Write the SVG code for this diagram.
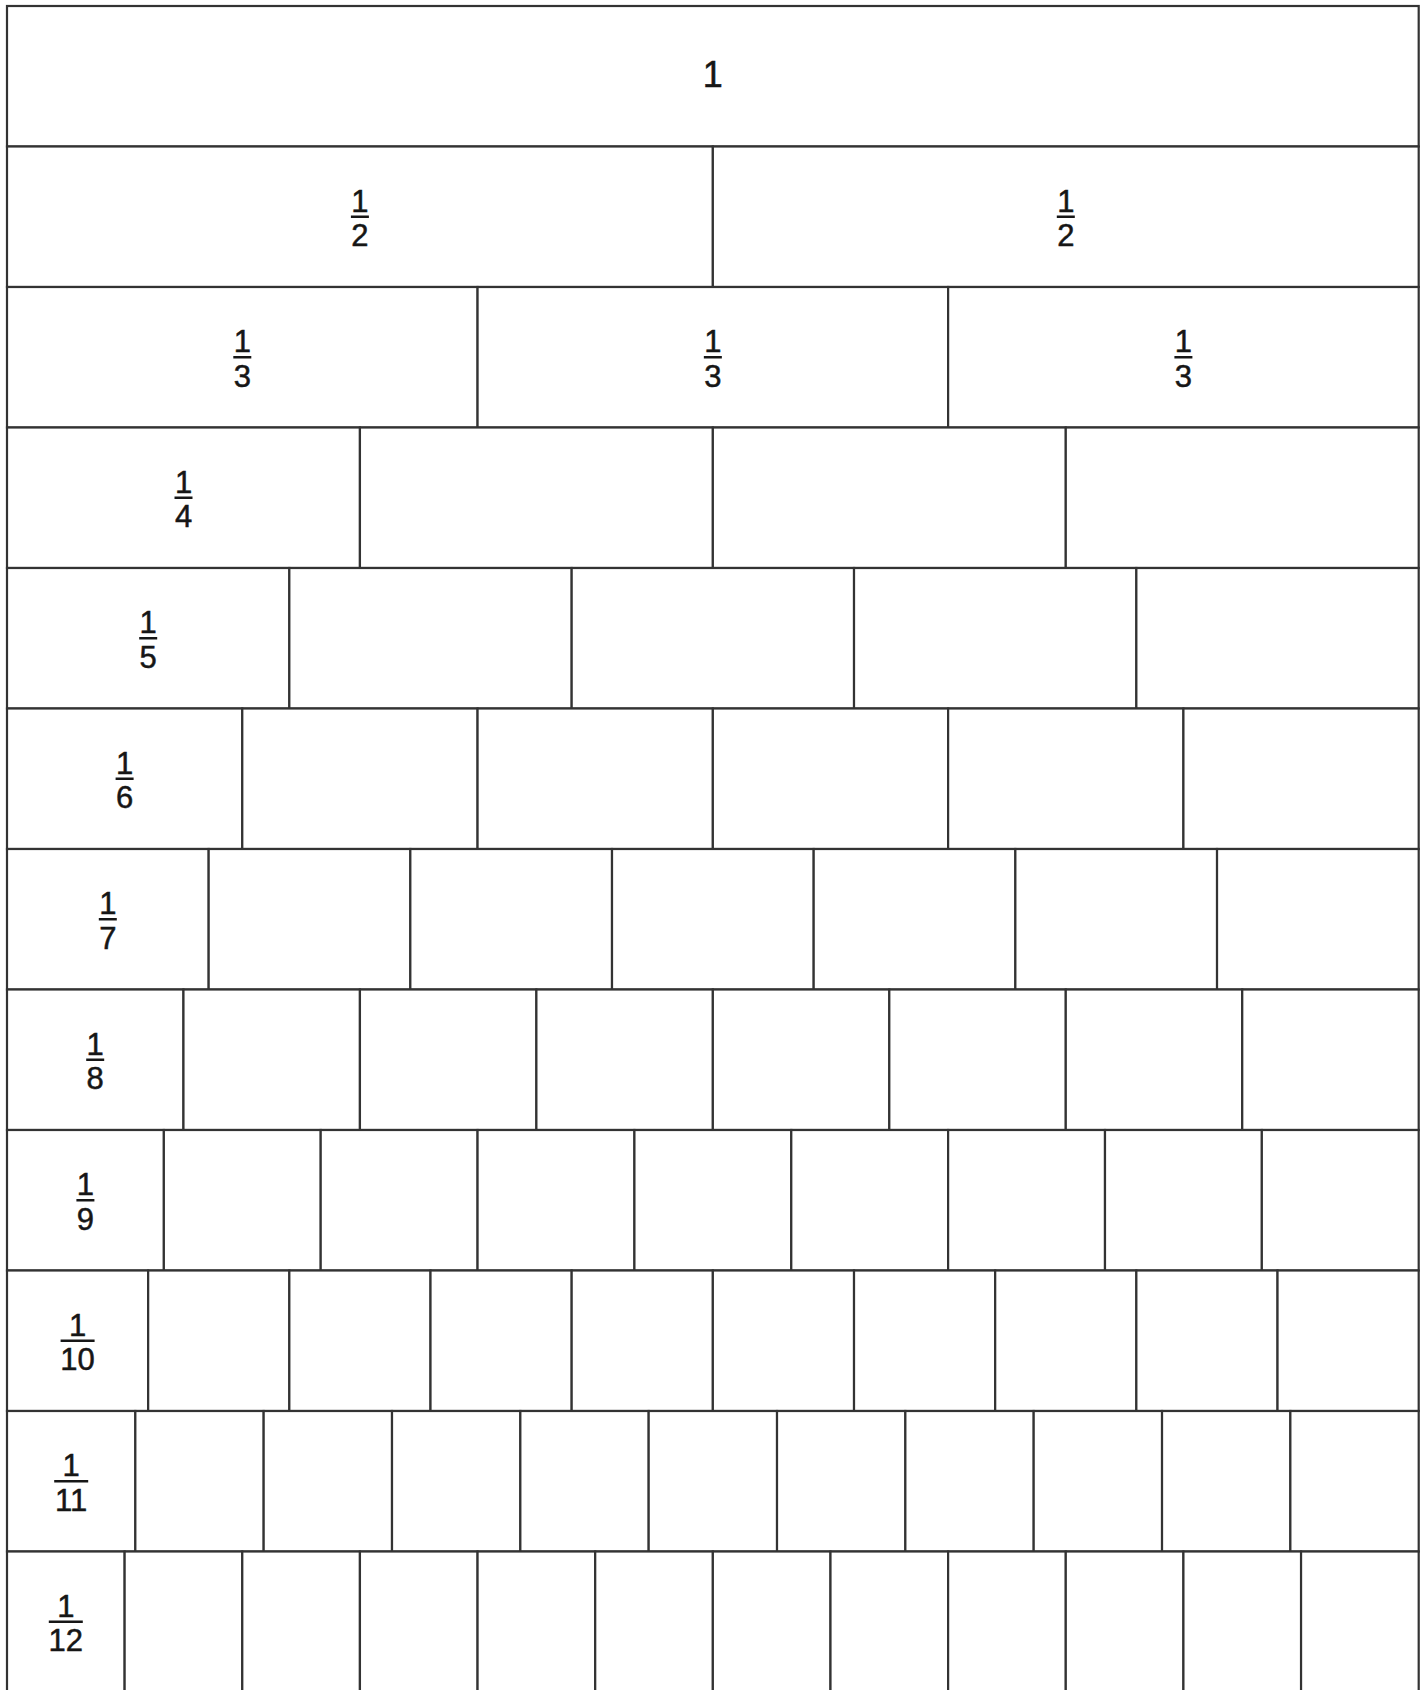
<svg xmlns="http://www.w3.org/2000/svg" width="1421" height="1690" viewBox="0 0 1421 1690">
<style>
.c{fill:#fff;stroke:#333;stroke-width:2.2}
.t{font-family:"Liberation Sans",Arial,sans-serif;font-size:31px;fill:#161616;stroke:#161616;stroke-width:0.5;text-anchor:middle}
.big{font-size:36px}
.bar{stroke:#161616;stroke-width:2.5}
</style>
<rect width="1421" height="1690" fill="#fff"/>
<g id="row1">
<g id="r1c1"><rect class="c" x="7" y="6" width="1411.7" height="140.5"/><text class="t big" x="712.85" y="87">1</text></g>
</g>
<g id="row2">
<g id="r2c1"><rect class="c" x="7" y="146.5" width="705.85" height="140.5"/><text class="t" x="359.9" y="211.75">1</text><line class="bar" x1="350.9" y1="216.75" x2="368.9" y2="216.75"/><text class="t" x="359.9" y="246">2</text></g>
<g id="r2c2"><rect class="c" x="712.85" y="146.5" width="705.85" height="140.5"/><text class="t" x="1065.8" y="211.75">1</text><line class="bar" x1="1056.8" y1="216.75" x2="1074.8" y2="216.75"/><text class="t" x="1065.8" y="246">2</text></g>
</g>
<g id="row3">
<g id="r3c1"><rect class="c" x="7" y="287" width="470.57" height="140.5"/><text class="t" x="242.3" y="352.25">1</text><line class="bar" x1="233.3" y1="357.25" x2="251.3" y2="357.25"/><text class="t" x="242.3" y="386.5">3</text></g>
<g id="r3c2"><rect class="c" x="477.57" y="287" width="470.57" height="140.5"/><text class="t" x="712.85" y="352.25">1</text><line class="bar" x1="703.85" y1="357.25" x2="721.85" y2="357.25"/><text class="t" x="712.85" y="386.5">3</text></g>
<g id="r3c3"><rect class="c" x="948.13" y="287" width="470.57" height="140.5"/><text class="t" x="1183.4" y="352.25">1</text><line class="bar" x1="1174.4" y1="357.25" x2="1192.4" y2="357.25"/><text class="t" x="1183.4" y="386.5">3</text></g>
</g>
<g id="row4">
<g id="r4c1"><rect class="c" x="7" y="427.5" width="352.93" height="140.5"/><text class="t" x="183.5" y="492.75">1</text><line class="bar" x1="174.5" y1="497.75" x2="192.5" y2="497.75"/><text class="t" x="183.5" y="527">4</text></g>
<g id="r4c2"><rect class="c" x="359.93" y="427.5" width="352.93" height="140.5"/></g>
<g id="r4c3"><rect class="c" x="712.85" y="427.5" width="352.93" height="140.5"/></g>
<g id="r4c4"><rect class="c" x="1065.78" y="427.5" width="352.93" height="140.5"/></g>
</g>
<g id="row5">
<g id="r5c1"><rect class="c" x="7" y="568" width="282.34" height="140.5"/><text class="t" x="148.2" y="633.25">1</text><line class="bar" x1="139.2" y1="638.25" x2="157.2" y2="638.25"/><text class="t" x="148.2" y="667.5">5</text></g>
<g id="r5c2"><rect class="c" x="289.34" y="568" width="282.34" height="140.5"/></g>
<g id="r5c3"><rect class="c" x="571.68" y="568" width="282.34" height="140.5"/></g>
<g id="r5c4"><rect class="c" x="854.02" y="568" width="282.34" height="140.5"/></g>
<g id="r5c5"><rect class="c" x="1136.36" y="568" width="282.34" height="140.5"/></g>
</g>
<g id="row6">
<g id="r6c1"><rect class="c" x="7" y="708.5" width="235.28" height="140.5"/><text class="t" x="124.6" y="773.75">1</text><line class="bar" x1="115.6" y1="778.75" x2="133.6" y2="778.75"/><text class="t" x="124.6" y="808">6</text></g>
<g id="r6c2"><rect class="c" x="242.28" y="708.5" width="235.28" height="140.5"/></g>
<g id="r6c3"><rect class="c" x="477.57" y="708.5" width="235.28" height="140.5"/></g>
<g id="r6c4"><rect class="c" x="712.85" y="708.5" width="235.28" height="140.5"/></g>
<g id="r6c5"><rect class="c" x="948.13" y="708.5" width="235.28" height="140.5"/></g>
<g id="r6c6"><rect class="c" x="1183.42" y="708.5" width="235.28" height="140.5"/></g>
</g>
<g id="row7">
<g id="r7c1"><rect class="c" x="7" y="849" width="201.67" height="140.5"/><text class="t" x="107.8" y="914.25">1</text><line class="bar" x1="98.8" y1="919.25" x2="116.8" y2="919.25"/><text class="t" x="107.8" y="948.5">7</text></g>
<g id="r7c2"><rect class="c" x="208.67" y="849" width="201.67" height="140.5"/></g>
<g id="r7c3"><rect class="c" x="410.34" y="849" width="201.67" height="140.5"/></g>
<g id="r7c4"><rect class="c" x="612.01" y="849" width="201.67" height="140.5"/></g>
<g id="r7c5"><rect class="c" x="813.69" y="849" width="201.67" height="140.5"/></g>
<g id="r7c6"><rect class="c" x="1015.36" y="849" width="201.67" height="140.5"/></g>
<g id="r7c7"><rect class="c" x="1217.03" y="849" width="201.67" height="140.5"/></g>
</g>
<g id="row8">
<g id="r8c1"><rect class="c" x="7" y="989.5" width="176.46" height="140.5"/><text class="t" x="95.2" y="1054.75">1</text><line class="bar" x1="86.2" y1="1059.75" x2="104.2" y2="1059.75"/><text class="t" x="95.2" y="1089">8</text></g>
<g id="r8c2"><rect class="c" x="183.46" y="989.5" width="176.46" height="140.5"/></g>
<g id="r8c3"><rect class="c" x="359.93" y="989.5" width="176.46" height="140.5"/></g>
<g id="r8c4"><rect class="c" x="536.39" y="989.5" width="176.46" height="140.5"/></g>
<g id="r8c5"><rect class="c" x="712.85" y="989.5" width="176.46" height="140.5"/></g>
<g id="r8c6"><rect class="c" x="889.31" y="989.5" width="176.46" height="140.5"/></g>
<g id="r8c7"><rect class="c" x="1065.78" y="989.5" width="176.46" height="140.5"/></g>
<g id="r8c8"><rect class="c" x="1242.24" y="989.5" width="176.46" height="140.5"/></g>
</g>
<g id="row9">
<g id="r9c1"><rect class="c" x="7" y="1130" width="156.86" height="140.5"/><text class="t" x="85.4" y="1195.25">1</text><line class="bar" x1="76.4" y1="1200.25" x2="94.4" y2="1200.25"/><text class="t" x="85.4" y="1229.5">9</text></g>
<g id="r9c2"><rect class="c" x="163.86" y="1130" width="156.86" height="140.5"/></g>
<g id="r9c3"><rect class="c" x="320.71" y="1130" width="156.86" height="140.5"/></g>
<g id="r9c4"><rect class="c" x="477.57" y="1130" width="156.86" height="140.5"/></g>
<g id="r9c5"><rect class="c" x="634.42" y="1130" width="156.86" height="140.5"/></g>
<g id="r9c6"><rect class="c" x="791.28" y="1130" width="156.86" height="140.5"/></g>
<g id="r9c7"><rect class="c" x="948.13" y="1130" width="156.86" height="140.5"/></g>
<g id="r9c8"><rect class="c" x="1104.99" y="1130" width="156.86" height="140.5"/></g>
<g id="r9c9"><rect class="c" x="1261.84" y="1130" width="156.86" height="140.5"/></g>
</g>
<g id="row10">
<g id="r10c1"><rect class="c" x="7" y="1270.5" width="141.17" height="140.5"/><text class="t" x="77.6" y="1335.75">1</text><line class="bar" x1="60.6" y1="1340.75" x2="94.6" y2="1340.75"/><text class="t" x="77.6" y="1370">10</text></g>
<g id="r10c2"><rect class="c" x="148.17" y="1270.5" width="141.17" height="140.5"/></g>
<g id="r10c3"><rect class="c" x="289.34" y="1270.5" width="141.17" height="140.5"/></g>
<g id="r10c4"><rect class="c" x="430.51" y="1270.5" width="141.17" height="140.5"/></g>
<g id="r10c5"><rect class="c" x="571.68" y="1270.5" width="141.17" height="140.5"/></g>
<g id="r10c6"><rect class="c" x="712.85" y="1270.5" width="141.17" height="140.5"/></g>
<g id="r10c7"><rect class="c" x="854.02" y="1270.5" width="141.17" height="140.5"/></g>
<g id="r10c8"><rect class="c" x="995.19" y="1270.5" width="141.17" height="140.5"/></g>
<g id="r10c9"><rect class="c" x="1136.36" y="1270.5" width="141.17" height="140.5"/></g>
<g id="r10c10"><rect class="c" x="1277.53" y="1270.5" width="141.17" height="140.5"/></g>
</g>
<g id="row11">
<g id="r11c1"><rect class="c" x="7" y="1411" width="128.34" height="140.5"/><text class="t" x="71.2" y="1476.25">1</text><line class="bar" x1="54.2" y1="1481.25" x2="88.2" y2="1481.25"/><text class="t" x="71.2" y="1510.5">11</text></g>
<g id="r11c2"><rect class="c" x="135.34" y="1411" width="128.34" height="140.5"/></g>
<g id="r11c3"><rect class="c" x="263.67" y="1411" width="128.34" height="140.5"/></g>
<g id="r11c4"><rect class="c" x="392.01" y="1411" width="128.34" height="140.5"/></g>
<g id="r11c5"><rect class="c" x="520.35" y="1411" width="128.34" height="140.5"/></g>
<g id="r11c6"><rect class="c" x="648.68" y="1411" width="128.34" height="140.5"/></g>
<g id="r11c7"><rect class="c" x="777.02" y="1411" width="128.34" height="140.5"/></g>
<g id="r11c8"><rect class="c" x="905.36" y="1411" width="128.34" height="140.5"/></g>
<g id="r11c9"><rect class="c" x="1033.69" y="1411" width="128.34" height="140.5"/></g>
<g id="r11c10"><rect class="c" x="1162.03" y="1411" width="128.34" height="140.5"/></g>
<g id="r11c11"><rect class="c" x="1290.37" y="1411" width="128.34" height="140.5"/></g>
</g>
<g id="row12">
<g id="r12c1"><rect class="c" x="7" y="1551.5" width="117.64" height="140.5"/><text class="t" x="65.8" y="1616.75">1</text><line class="bar" x1="48.8" y1="1621.75" x2="82.8" y2="1621.75"/><text class="t" x="65.8" y="1651">12</text></g>
<g id="r12c2"><rect class="c" x="124.64" y="1551.5" width="117.64" height="140.5"/></g>
<g id="r12c3"><rect class="c" x="242.28" y="1551.5" width="117.64" height="140.5"/></g>
<g id="r12c4"><rect class="c" x="359.93" y="1551.5" width="117.64" height="140.5"/></g>
<g id="r12c5"><rect class="c" x="477.57" y="1551.5" width="117.64" height="140.5"/></g>
<g id="r12c6"><rect class="c" x="595.21" y="1551.5" width="117.64" height="140.5"/></g>
<g id="r12c7"><rect class="c" x="712.85" y="1551.5" width="117.64" height="140.5"/></g>
<g id="r12c8"><rect class="c" x="830.49" y="1551.5" width="117.64" height="140.5"/></g>
<g id="r12c9"><rect class="c" x="948.13" y="1551.5" width="117.64" height="140.5"/></g>
<g id="r12c10"><rect class="c" x="1065.78" y="1551.5" width="117.64" height="140.5"/></g>
<g id="r12c11"><rect class="c" x="1183.42" y="1551.5" width="117.64" height="140.5"/></g>
<g id="r12c12"><rect class="c" x="1301.06" y="1551.5" width="117.64" height="140.5"/></g>
</g>
<g id="connectors"/>
</svg>
